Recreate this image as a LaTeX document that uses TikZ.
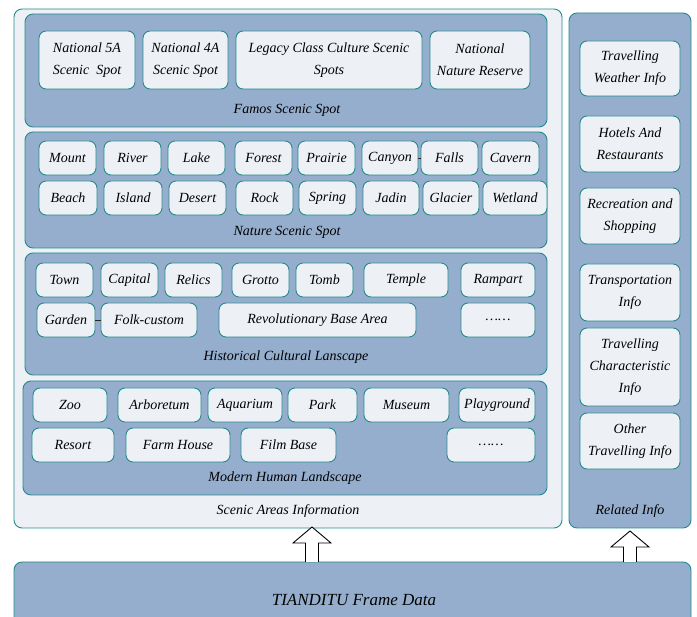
\documentclass[tikz,border=0pt]{standalone}
\usepackage{fontspec}
\setmainfont{Liberation Serif}
\usetikzlibrary{positioning, calc}
\definecolor{panelblue}{RGB}{149,174,205}
\definecolor{paperwhite}{RGB}{237,241,246}
\definecolor{tealedge}{RGB}{36,138,140}
\tikzset{
  layers/.style={
	x=1pt, y=-1pt, % one unit per pixel, y runs down the page
	every node/.style={font=\itshape\fontsize{14}{22}\selectfont}, % italic serif text everywhere
  },
  panel/.style={draw=tealedge, line width=0.9pt, fill=panelblue, rounded corners=8pt, inner sep=0pt, outer sep=0pt, anchor=north west},
  sheet/.style={draw=tealedge, line width=0.9pt, fill=paperwhite, rounded corners=8pt, inner sep=0pt, outer sep=0pt, anchor=north west},
  item/.style={draw=tealedge, line width=0.9pt, fill=paperwhite, rounded corners=7pt, minimum height=34pt, inner sep=1pt, outer sep=0pt, align=center},
  tag/.style={inner sep=0pt},
  tie/.style={draw=black!85, line width=0.7pt},
  liftline/.style={draw=black, line width=0.9pt},
  pics/lift/.style={code={
	\fill[white] (-6.5,0) -- (-6.5,16-#1) -- (-19,16-#1) -- (0,-#1) -- (19,16-#1) -- (6.5,16-#1) -- (6.5,0) -- cycle;
	\draw[liftline] (-6.5,0) -- (-6.5,16-#1) -- (-19,16-#1) -- (0,-#1) -- (19,16-#1) -- (6.5,16-#1) -- (6.5,0);
  }},
}
\begin{document}
\begin{tikzpicture}[layers]
	  \useasboundingbox (0,0) rectangle (697,617);
	  \clip (0,0) rectangle (697,617);

	  % big containers
	  \node[sheet, minimum width=548pt, minimum height=519pt] (scenic) at (14,9) {};
	  \node[panel, minimum width=122pt, minimum height=515pt] (related) at (569,13) {};
	  \node[panel, minimum width=522pt, minimum height=113pt] (famos) at (25,14) {};
	  \node[panel, minimum width=522pt, minimum height=116pt] (nature) at (25,132) {};
	  \node[panel, minimum width=522pt, minimum height=122pt] (historic) at (25,253) {};
	  \node[panel, minimum width=524pt, minimum height=114pt] (modern) at (23,381) {};
	  \node[panel, minimum width=677pt, minimum height=80pt] (frame) at (14,562) {};

	  % famous scenic spots
	  \node[item, minimum width=96pt, minimum height=58pt, anchor=north west] (nat5a) at (39,31) {National 5A\\Scenic\ \ Spot};
	  \node[item, minimum width=85pt, minimum height=58pt, right=8pt of nat5a] (nat4a) {National 4A\\Scenic Spot};
	  \node[item, minimum width=186pt, minimum height=58pt, right=8pt of nat4a] (legacy) {Legacy Class Culture Scenic\\Spots};
	  \node[item, minimum width=100pt, minimum height=58pt, right=8pt of legacy] (reserve) {National\\Nature Reserve};
	  \node[tag] (famostitle) at (287,110) {Famos Scenic Spot};

	  % nature scenic spots
	  \node[item, minimum width=57pt, anchor=north west] (mount) at (39,141) {Mount};
	  \node[item, minimum width=57pt, right=8pt of mount] (river) {River};
	  \node[item, minimum width=57pt, right=7pt of river] (lake) {Lake};
	  \node[item, minimum width=57pt, right=10pt of lake] (forest) {Forest};
	  \node[item, minimum width=57pt, right=6pt of forest] (prairie) {Prairie};
	  \node[item, minimum width=56pt, right=7pt of prairie] (canyon) {Canyon};
	  \node[item, minimum width=57pt, right=3pt of canyon] (falls) {Falls};
	  \node[item, minimum width=57pt, right=4pt of falls] (cavern) {Cavern};
	  \node[item, minimum width=58pt, anchor=north west] (beach) at (39,181) {Beach};
	  \node[item, minimum width=58pt, right=7pt of beach] (island) {Island};
	  \node[item, minimum width=57pt, right=7pt of island] (desert) {Desert};
	  \node[item, minimum width=57pt, right=10pt of desert] (rock) {Rock};
	  \node[item, minimum width=57pt, right=6pt of rock] (spring) {Spring};
	  \node[item, minimum width=56pt, right=7pt of spring] (jadin) {Jadin};
	  \node[item, minimum width=56pt, right=4pt of jadin] (glacier) {Glacier};
	  \node[item, minimum width=64pt, right=4pt of glacier] (wetland) {Wetland};
	  \node[tag] (naturetitle) at (287,232) {Nature Scenic Spot};

	  % historical cultural landscape
	  \node[item, minimum width=57pt, anchor=north west] (town) at (36,263) {Town};
	  \node[item, minimum width=57pt, right=8pt of town] (capital) {Capital};
	  \node[item, minimum width=57pt, right=7pt of capital] (relics) {Relics};
	  \node[item, minimum width=57pt, right=10pt of relics] (grotto) {Grotto};
	  \node[item, minimum width=57pt, right=7pt of grotto] (tomb) {Tomb};
	  \node[item, minimum width=84pt, right=11pt of tomb] (temple) {Temple};
	  \node[item, minimum width=74pt, right=13pt of temple] (rampart) {Rampart};
	  \node[item, minimum width=58pt, anchor=north west] (garden) at (37,303) {Garden};
	  \node[item, minimum width=96pt, right=6pt of garden] (folk) {Folk-custom};
	  \node[item, minimum width=197pt, right=22pt of folk] (revolution) {Revolutionary Base Area};
	  \node[item, minimum width=74pt, right=45pt of revolution] (histmore) {……};
	  \node[tag] (historictitle) at (286,357) {Historical Cultural Lanscape};

	  % modern human landscape
	  \node[item, minimum width=74pt, anchor=north west] (zoo) at (33,388) {Zoo};
	  \node[item, minimum width=83pt, right=11pt of zoo] (arboretum) {Arboretum};
	  \node[item, minimum width=74pt, right=7pt of arboretum] (aquarium) {Aquarium};
	  \node[item, minimum width=69pt, right=6pt of aquarium] (park) {Park};
	  \node[item, minimum width=85pt, right=7pt of park] (museum) {Museum};
	  \node[item, minimum width=76pt, right=10pt of museum] (playground) {Playground};
	  \node[item, minimum width=82pt, anchor=north west] (resort) at (32,428) {Resort};
	  \node[item, minimum width=104pt, right=12pt of resort] (farm) {Farm House};
	  \node[item, minimum width=95pt, right=11pt of farm] (film) {Film Base};
	  \node[item, minimum width=88pt, right=111pt of film] (modernmore) {……};
	  \node[tag] (moderntitle) at (285,478) {Modern Human Landscape};

	  \node[tag] (scenictitle) at (288,511) {Scenic Areas Information};

	  % related info column
	  \node[item, minimum width=100pt, minimum height=55pt, anchor=north] (weather) at (630,41) {Travelling\\Weather Info};
	  \node[item, minimum width=100pt, minimum height=56pt, below=20pt of weather] (hotels) {Hotels And\\Restaurants};
	  \node[item, minimum width=100pt, minimum height=56pt, below=16pt of hotels] (recreation) {Recreation and\\Shopping};
	  \node[item, minimum width=100pt, minimum height=57pt, below=20pt of recreation] (transport) {Transportation\\Info};
	  \node[item, minimum width=100pt, minimum height=78pt, below=7pt of transport] (feature) {Travelling\\Characteristic\\Info};
	  \node[item, minimum width=100pt, minimum height=56pt, below=7pt of feature] (othertravel) {Other\\Travelling Info};
	  \node[tag] (relatedtitle) at (630,511) {Related Info};

	  \node[tag, font=\itshape\fontsize{17}{20}\selectfont] (frametitle) at (354,600) {TIANDITU Frame Data};

	  % little ties between boxes
	  \draw[tie] (canyon) -- (falls);
	  \draw[tie] (garden) -- (folk);

	  % hollow arrows up from the frame data
	  \coordinate (scenicfoot) at (312,562);
	  \coordinate (relatedfoot) at (630,562);
	  \pic at (scenicfoot) {lift=35};
	  \pic at (relatedfoot) {lift=31};
	  \end{tikzpicture}
\end{document}
